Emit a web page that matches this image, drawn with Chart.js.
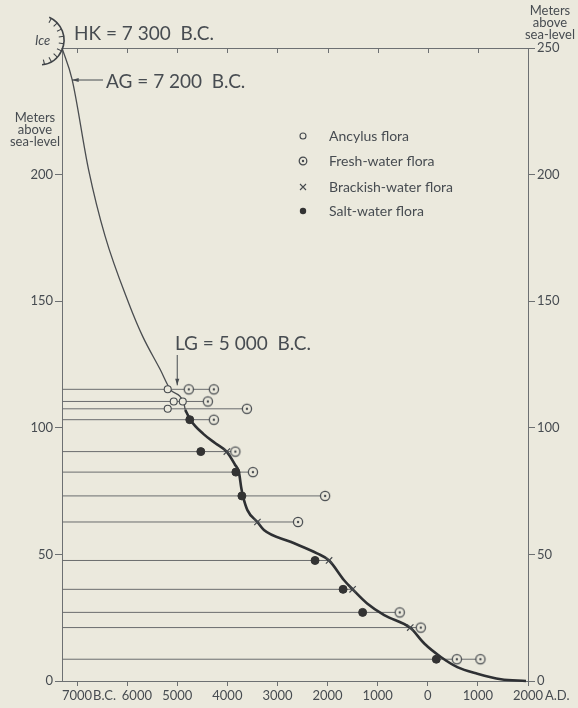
<!DOCTYPE html>
<html>
<head>
<meta charset="utf-8">
<script src="https://cdn.jsdelivr.net/npm/chart.js@4.4.1/dist/chart.umd.min.js"></script>
<style>
  html, body { margin: 0; padding: 0; background: #ebe9dd; }
  canvas { display: block; }
</style>
</head>
<body>
<canvas id="shoreline" width="578" height="708"></canvas>
<script>
// axis ticks (years: negative = B.C.)
const yearTicks = [-7000, -6000, -5000, -4000, -3000, -2000, -1000, 0, 1000, 2000];
const meterTicks = [0, 50, 100, 150, 200, 250];

// shoreline curve, thin part (before LG) and thick part
const thinYears  = [-7300, -7100, -6770, -6440, -5970, -5690, -5340, -5140, -4870, -4840];
const thinLevels = [250, 237.7, 202, 175.7, 149.3, 136.1, 123, 115.2, 109.8, 107.1];
const thickYears  = [-4840, -4740, -4480, -4240, -4010, -3850, -3770, -3720, -3690, -3600, -3400, -3270, -2740, -2210, -1970, -1670, -1500, -1210, -870, -350, -70, 260, 590, 990, 1460, 1960];
const thickLevels = [107.1, 103.2, 97.6, 93.9, 90.5, 85.5, 82.5, 76, 73.1, 67.5, 62.8, 59.6, 55, 50.4, 47.6, 39.8, 36.2, 30.6, 26, 21, 14.8, 9.5, 5.5, 2.9, 0.7, 0];

// levels of the sampled sites (horizontal lines)
const levels = [115.2, 110.4, 107.5, 103.2, 90.6, 82.5, 73.1, 62.8, 47.6, 36.2, 27.1, 21.1, 8.6];

// flora finds
const ancylusYears  = [-5190, -5070, -4890, -5190];
const ancylusLevels = [115.2, 110.4, 110.4, 107.5];
const freshYears  = [-4770, -4270, -4390, -3610, -4270, -3840, -3490, -2050, -2590, -560, -140, 580, 1050];
const freshLevels = [115.2, 115.2, 110.4, 107.5, 103.2, 90.6, 82.5, 73.1, 62.8, 27.1, 21.1, 8.6, 8.6];
const brackishYears  = [-4010, -3400, -1970, -1500, -350];
const brackishLevels = [90.6, 62.8, 47.6, 36.2, 21.1];
const saltYears  = [-4750, -4530, -3830, -3710, -2250, -1690, -1300, 170];
const saltLevels = [103.2, 90.6, 82.5, 73.1, 47.6, 36.2, 27.1, 8.6];

const BG = '#ebe9dd';
const INK = '#474c51';
const AXIS = '#6d7072';
const MARK = '#464a4e';
const FONT = 'Lato';

const pts = (xs, ys) => xs.map((x, i) => ({x: x, y: ys[i]}));

// each site line runs from the left axis to its last find
const allYears = [ancylusYears, freshYears, brackishYears, saltYears];
const allLevels = [ancylusLevels, freshLevels, brackishLevels, saltLevels];
const siteLines = [];
levels.forEach(l => {
    let end = -7300;
    allYears.forEach((ys, k) => ys.forEach((yr, i) => {
        if (allLevels[k][i] === l && yr > end) end = yr;
    }));
    siteLines.push({x: -7300, y: l}, {x: end, y: l}, {x: end, y: null});
});

// fresh-water marker: circle with a dot
function freshMark(r) {
    const c = document.createElement('canvas');
    const s = Math.ceil(r * 2 + 4);
    c.width = s; c.height = s;
    const g = c.getContext('2d');
    g.fillStyle = BG;
    g.strokeStyle = MARK;
    g.lineWidth = 1.25;
    g.beginPath(); g.arc(s / 2, s / 2, r, 0, Math.PI * 2); g.fill(); g.stroke();
    g.fillStyle = MARK;
    g.beginPath(); g.arc(s / 2, s / 2, 1.2, 0, Math.PI * 2); g.fill();
    return c;
}
const freshImg = freshMark(4.6);
const freshImgSmall = freshMark(3.8);

function text(ctx, s, x, y, size, align, style) {
    ctx.font = (style || '') + ' ' + size + 'px ' + FONT;
    ctx.textAlign = align || 'left';
    ctx.textBaseline = 'alphabetic';
    ctx.fillStyle = INK;
    ctx.fillText(s, x, y);
}

function arrow(ctx, x1, y1, x2, y2) {
    ctx.strokeStyle = INK; ctx.fillStyle = INK; ctx.lineWidth = 1;
    ctx.beginPath(); ctx.moveTo(x1, y1); ctx.lineTo(x2, y2); ctx.stroke();
    const a = Math.atan2(y2 - y1, x2 - x1);
    ctx.beginPath();
    ctx.moveTo(x2, y2);
    ctx.lineTo(x2 - 7 * Math.cos(a - 0.3), y2 - 7 * Math.sin(a - 0.3));
    ctx.lineTo(x2 - 7 * Math.cos(a + 0.3), y2 - 7 * Math.sin(a + 0.3));
    ctx.closePath(); ctx.fill();
}

const decor = {
    id: 'decor',
    beforeDraw(chart) {
        const ctx = chart.ctx;
        ctx.save();
        ctx.fillStyle = BG;
        ctx.fillRect(0, 0, chart.width, chart.height);
        ctx.restore();
    },
    afterDraw(chart) {
        const ctx = chart.ctx;
        const x = chart.scales.x, y = chart.scales.y;
        const area = chart.chartArea;
        ctx.save();

        // inward ticks on the top border
        ctx.strokeStyle = AXIS; ctx.lineWidth = 1;
        yearTicks.forEach(v => {
            const px = Math.round(x.getPixelForValue(v)) + 0.5;
            ctx.beginPath(); ctx.moveTo(px, area.top); ctx.lineTo(px, area.top + 5); ctx.stroke();
        });

        // B.C. / A.D. after the end labels
        text(ctx, 'B.C.', x.getPixelForValue(-7000) + 16, 700, 13);
        text(ctx, 'A.D.', x.getPixelForValue(2000) + 17, 700, 13);

        // axis titles
        ['Meters', 'above', 'sea-level'].forEach((s, i) => {
            text(ctx, s, 35, 122 + i * 12, 13, 'center');
            text(ctx, s, 550, 15 + i * 12, 13, 'center');
        });

        // ice edge
        ctx.strokeStyle = '#3f4347'; ctx.lineWidth = 1.6;
        const cx = 39, cy = 40, r = 25;
        ctx.beginPath(); ctx.arc(cx, cy, r, -1.15, 1.45); ctx.stroke();
        ctx.lineWidth = 1.1;
        for (let i = 0; i < 9; i++) {
            const a = -1.05 + i * 0.3;
            ctx.beginPath();
            ctx.moveTo(cx + r * Math.cos(a), cy + r * Math.sin(a));
            ctx.lineTo(cx + (r - 5) * Math.cos(a), cy + (r - 5) * Math.sin(a));
            ctx.stroke();
        }
        text(ctx, 'Ice', 35, 45, 13, 'left', 'italic');

        // dated events
        text(ctx, 'HK = 7 300  B.C.', 74, 40, 19);
        arrow(ctx, 103, 80, 72, 80);
        text(ctx, 'AG = 7 200  B.C.', 106, 88, 19);
        text(ctx, 'LG = 5 000  B.C.', 175, 350, 19);
        const lgx = x.getPixelForValue(-5000);
        arrow(ctx, lgx, 355, lgx, y.getPixelForValue(levels[0]) - 4);

        // legend
        const lx = 303, rows = [136, 161, 187, 211];
        const labels = ['Ancylus flora', 'Fresh-water flora', 'Brackish-water flora', 'Salt-water flora'];
        labels.forEach((s, i) => text(ctx, s, 329, rows[i] + 5, 14));
        ctx.strokeStyle = MARK; ctx.lineWidth = 1.1;
        ctx.fillStyle = BG;
        ctx.beginPath(); ctx.arc(lx, rows[0], 3, 0, Math.PI * 2); ctx.fill(); ctx.stroke();
        ctx.drawImage(freshImgSmall, lx - freshImgSmall.width / 2, rows[1] - freshImgSmall.height / 2);
        ctx.beginPath();
        ctx.moveTo(lx - 3, rows[2] - 3); ctx.lineTo(lx + 3, rows[2] + 3);
        ctx.moveTo(lx + 3, rows[2] - 3); ctx.lineTo(lx - 3, rows[2] + 3);
        ctx.stroke();
        ctx.fillStyle = '#333';
        ctx.beginPath(); ctx.arc(lx, rows[3], 3.2, 0, Math.PI * 2); ctx.fill();

        ctx.restore();
    }
};

const tickFont = {family: FONT, size: 13};

new Chart(document.getElementById('shoreline'), {
    type: 'scatter',
    data: {
        datasets: [
            {
                label: 'Ancylus flora',
                data: pts(ancylusYears, ancylusLevels),
                pointStyle: 'circle', pointRadius: 3.5,
                backgroundColor: BG, borderColor: MARK, borderWidth: 1.1,
                order: 0
            },
            {
                label: 'Fresh-water flora',
                data: pts(freshYears, freshLevels),
                pointStyle: freshImg,
                order: 0
            },
            {
                label: 'Brackish-water flora',
                data: pts(brackishYears, brackishLevels),
                pointStyle: 'crossRot', pointRadius: 4.5,
                borderColor: MARK, borderWidth: 1.2,
                order: 0
            },
            {
                label: 'Salt-water flora',
                data: pts(saltYears, saltLevels),
                pointStyle: 'circle', pointRadius: 4,
                backgroundColor: '#333', borderColor: '#333', borderWidth: 1,
                order: 0
            },
            {
                label: 'Shoreline (early)',
                data: pts(thinYears, thinLevels),
                showLine: true, pointRadius: 0,
                borderColor: '#4a4d50', borderWidth: 1.3,
                cubicInterpolationMode: 'monotone',
                clip: false, order: 1
            },
            {
                label: 'Shoreline',
                data: pts(thickYears, thickLevels),
                showLine: true, pointRadius: 0,
                borderColor: '#2e3033', borderWidth: 2.6,
                cubicInterpolationMode: 'monotone',
                clip: false, order: 1
            },
            {
                label: 'Sites',
                data: siteLines,
                showLine: true, pointRadius: 0, spanGaps: false,
                borderColor: '#6a6c6e', borderWidth: 1,
                order: 2
            }
        ]
    },
    options: {
        responsive: false,
        animation: false,
        events: [],
        layout: {padding: 0},
        plugins: {
            legend: {display: false},
            tooltip: {enabled: false}
        },
        scales: {
            x: {
                type: 'linear', position: 'bottom',
                min: -7300, max: 2000,
                afterBuildTicks: s => { s.ticks = yearTicks.map(v => ({value: v})); },
                afterFit: s => { s.height = 27; },
                ticks: {
                    color: INK, font: tickFont, padding: 2, maxRotation: 0, autoSkip: false,
                    // 6000 sits a little right to make room for "B.C."
                    callback: v => (v === -6000 ? '\u2002\u2002\u2002' : '') + Math.abs(v)
                },
                grid: {drawOnChartArea: false, drawTicks: true, tickLength: 5, color: AXIS},
                border: {display: true, color: AXIS, width: 1}
            },
            xTop: {
                type: 'linear', axis: 'x', position: 'top',
                min: -7300, max: 2000,
                afterFit: s => { s.height = 48; },
                ticks: {display: false},
                grid: {display: false},
                border: {display: true, color: AXIS, width: 1}
            },
            y: {
                type: 'linear', position: 'left',
                min: 0, max: 250,
                afterBuildTicks: s => { s.ticks = meterTicks.map(v => ({value: v})); },
                afterFit: s => { s.width = 62; },
                ticks: {
                    color: INK, font: tickFont, padding: 2,
                    callback: v => v === 250 ? '' : String(v)
                },
                grid: {
                    drawOnChartArea: false, drawTicks: true, tickLength: 7,
                    color: c => (c.tick && c.tick.value === 250) ? 'rgba(0,0,0,0)' : AXIS
                },
                border: {display: true, color: AXIS, width: 1}
            },
            yRight: {
                type: 'linear', axis: 'y', position: 'right',
                min: 0, max: 250,
                afterBuildTicks: s => { s.ticks = meterTicks.map(v => ({value: v})); },
                afterFit: s => { s.width = 50; },
                ticks: {color: INK, font: tickFont, padding: 2},
                grid: {drawOnChartArea: false, drawTicks: true, tickLength: 7, color: AXIS},
                border: {display: true, color: AXIS, width: 1}
            }
        }
    },
    plugins: [decor]
});
</script>
</body>
</html>
